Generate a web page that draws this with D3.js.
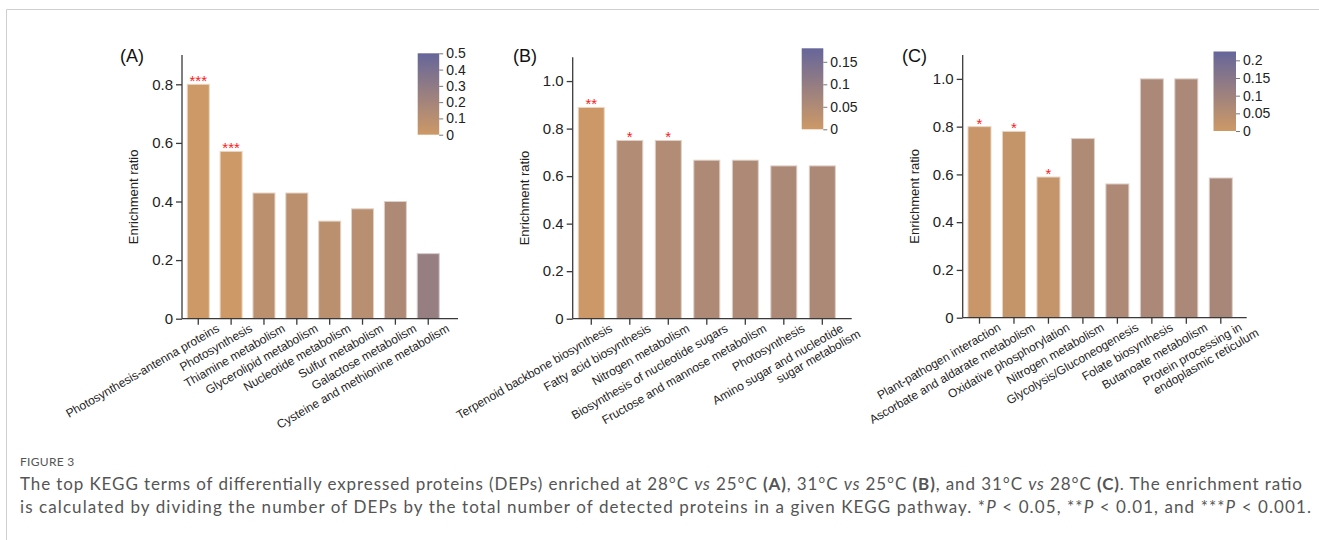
<!DOCTYPE html>
<html>
<head>
<meta charset="utf-8">
<script src="https://cdn.jsdelivr.net/npm/d3@7"></script>
<style>
  body { margin: 0; background: #fff; }
  svg { display: block; }
  .tick text { font-family: "Liberation Sans", Arial, sans-serif; }
</style>
</head>
<body>
<svg width="1319" height="540"></svg>
<script>
// ---- data ----
const catsA = ["Photosynthesis-antenna proteins", "Photosynthesis", "Thiamine metabolism",
  "Glycerolipid metabolism", "Nucleotide metabolism", "Sulfur metabolism",
  "Galactose metabolism", "Cysteine and methionine metabolism"];
const valsA = [0.8, 0.571, 0.429, 0.429, 0.333, 0.375, 0.4, 0.222];
const pA = [0.0002, 0.0007, 0.085, 0.085, 0.09, 0.1, 0.15, 0.26];

const catsB = ["Terpenoid backbone biosynthesis", "Fatty acid biosynthesis", "Nitrogen metabolism",
  "Biosynthesis of nucleotide sugars", "Fructose and mannose metabolism", "Photosynthesis",
  "Amino sugar and nucleotide\nsugar metabolism"];
const valsB = [0.889, 0.75, 0.75, 0.667, 0.667, 0.643, 0.643];
const pB = [0.002, 0.047, 0.047, 0.055, 0.055, 0.057, 0.057];

const catsC = ["Plant-pathogen interaction", "Ascorbate and aldarate metabolism",
  "Oxidative phosphorylation", "Nitrogen metabolism", "Glycolysis/Gluconeogenesis",
  "Folate biosynthesis", "Butanoate metabolism", "Protein processing in\nendoplasmic reticulum"];
const valsC = [0.8, 0.78, 0.589, 0.75, 0.56, 1.0, 1.0, 0.585];
const pC = [0.012, 0.018, 0.02, 0.066, 0.07, 0.074, 0.074, 0.08];

const yTicksA = [0, 0.2, 0.4, 0.6, 0.8];
const yTicksBC = [0, 0.2, 0.4, 0.6, 0.8, 1.0];
const legTicksA = [0, 0.1, 0.2, 0.3, 0.4, 0.5];
const legTicksB = [0, 0.05, 0.1, 0.15];
const legTicksC = [0, 0.05, 0.1, 0.15, 0.2];

const svg = d3.select("svg");
const font = '"Liberation Sans", Arial, sans-serif';
const lowCol = "#cd9966", highCol = "#66669a";

const stars = p => p < 0.001 ? "***" : p < 0.01 ? "**" : p < 0.05 ? "*" : "";
const fmt = v => v === 0 ? "0" : d3.format(".1f")(v);

// frame line of the figure box
svg.append("path")
  .attr("d", "M6.5,540V9.5H1319")
  .attr("fill", "none").attr("stroke", "#cfcfcf").attr("stroke-width", 1);

function panel(o) {
  const g = svg.append("g");
  const x = d3.scaleBand().domain(o.cats).range([o.x0, o.x1])
    .paddingInner(o.pi).paddingOuter(o.po);
  const y = d3.scaleLinear().domain([0, o.ymax]).range([o.yb, o.yt]);
  const col = d3.scaleLinear().domain([0, o.pmax]).range([lowCol, highCol]).clamp(true);

  // bars
  g.selectAll("rect.bar").data(o.cats).enter().append("rect")
    .attr("class", "bar")
    .attr("x", d => x(d))
    .attr("width", x.bandwidth())
    .attr("y", (d, i) => y(o.vals[i]))
    .attr("height", (d, i) => y(0) - y(o.vals[i]))
    .attr("fill", (d, i) => col(o.p[i]))
    .attr("stroke", (d, i) => d3.interpolateRgb(col(o.p[i]), "#fff")(0.6))
    .attr("stroke-width", 1);

  // significance stars
  g.selectAll("text.star").data(o.cats).enter().append("text")
    .attr("x", d => x(d) + x.bandwidth() / 2)
    .attr("y", (d, i) => y(o.vals[i]) + 2)
    .attr("text-anchor", "middle")
    .attr("font-family", font).attr("font-size", 15)
    .attr("fill", "#ff1a1a")
    .text((d, i) => stars(o.p[i]));

  // y axis
  const ya = g.append("g").attr("transform", `translate(${o.x0},0)`)
    .call(d3.axisLeft(y).tickValues(o.yticks).tickFormat(fmt).tickSize(6).tickPadding(3).tickSizeOuter(0));
  ya.select(".domain").attr("d", `M0,${o.yt}V${o.yb}`);
  ya.selectAll("line, path").attr("stroke", "#3a3a3a").attr("stroke-width", 1.3);
  ya.selectAll("text").attr("font-size", 15).attr("fill", "#222");

  // x axis
  const xa = g.append("g").attr("transform", `translate(0,${o.yb})`)
    .call(d3.axisBottom(x).tickSize(6).tickSizeOuter(0).tickFormat(""));
  xa.select(".domain").attr("d", `M${o.x0},0H${o.xend}`);
  xa.selectAll("line, path").attr("stroke", "#3a3a3a").attr("stroke-width", 1.3);

  // rotated category labels
  g.selectAll("text.cat").data(o.cats).enter().append("text")
    .attr("transform", d => `translate(${x(d) + x.bandwidth() / 2 + 22},${o.yb + 12}) rotate(-30)`)
    .attr("text-anchor", "end")
    .attr("font-family", font).attr("font-size", 12).attr("fill", "#222")
    .each(function (d) {
      const lines = d.split("\n");
      d3.select(this).selectAll("tspan").data(lines).enter().append("tspan")
        .attr("x", (l, i) => i * 12)
        .attr("dy", (l, i) => i === 0 ? 0 : "1.1em")
        .text(l => l);
    });

  // y title
  g.append("text")
    .attr("transform", `translate(${o.x0 - 44},${(o.yt + o.yb) / 2 + 10}) rotate(-90)`)
    .attr("text-anchor", "middle")
    .attr("font-family", font).attr("font-size", 13).attr("fill", "#222")
    .text("Enrichment ratio");

  // panel letter
  g.append("text").attr("x", o.lx).attr("y", 62)
    .attr("font-family", font).attr("font-size", 18).attr("fill", "#111")
    .text(o.letter);

  // colour legend
  const defs = svg.append("defs");
  const gid = "grad" + o.letter.replace(/\W/g, "");
  const grad = defs.append("linearGradient").attr("id", gid)
    .attr("x1", 0).attr("y1", 1).attr("x2", 0).attr("y2", 0);
  grad.append("stop").attr("offset", 0).attr("stop-color", lowCol);
  grad.append("stop").attr("offset", 1).attr("stop-color", highCol);
  const ly = d3.scaleLinear().domain([0, o.pmax]).range([o.lb, o.lt]);
  g.append("rect").attr("x", o.lx0).attr("y", o.lt)
    .attr("width", o.lw).attr("height", o.lb - o.lt)
    .attr("fill", `url(#${gid})`);
  const la = g.append("g").attr("transform", `translate(${o.lx0 + o.lw},0)`)
    .call(d3.axisRight(ly).tickValues(o.lticks).tickFormat(v => v === 0 ? "0" : String(v))
      .tickSize(4).tickPadding(3));
  la.select(".domain").remove();
  la.selectAll("line").attr("stroke", "#777");
  la.selectAll("text").attr("font-size", 14).attr("fill", "#222");
}

panel({ letter: "(A)", lx: 120, cats: catsA, vals: valsA, p: pA,
  x0: 182, x1: 444.5, xend: 458, pi: 0.33, po: 0.16,
  yb: 318.7, yt: 55, ymax: 0.9, yticks: yTicksA,
  pmax: 0.5, lx0: 417.7, lw: 21.5, lt: 53.3, lb: 134.7, lticks: legTicksA });

panel({ letter: "(B)", lx: 513, cats: catsB, vals: valsB, p: pB,
  x0: 572.7, x1: 840.9, xend: 851.7, pi: 0.325, po: 0.145,
  yb: 318.7, yt: 57.3, ymax: 1.1, yticks: yTicksBC,
  pmax: 0.18, lx0: 801.7, lw: 21.6, lt: 48.3, lb: 129.3, lticks: legTicksB });

panel({ letter: "(C)", lx: 902, cats: catsC, vals: valsC, p: pC,
  x0: 962.7, x1: 1237.6, xend: 1246.7, pi: 0.333, po: 0.154,
  yb: 317.7, yt: 55, ymax: 1.1, yticks: yTicksBC,
  pmax: 0.225, lx0: 1213.5, lw: 22.5, lt: 51.5, lb: 131, lticks: legTicksC });

// caption
const cap = svg.append("g").attr("font-family", "Lato, 'Open Sans', sans-serif").attr("fill", "#555");
cap.append("text").attr("x", 20).attr("y", 466).attr("font-size", 12).attr("letter-spacing", 0.3)
  .text("FIGURE 3");
const l1 = cap.append("text").attr("x", 20).attr("y", 490).attr("font-size", 17)
  .attr("textLength", 1282).attr("lengthAdjust", "spacing");
[["The top KEGG terms of differentially expressed proteins (DEPs) enriched at 28°C ", ""],
 ["vs", "i"], [" 25°C ", ""], ["(A)", "b"], [", 31°C ", ""], ["vs", "i"], [" 25°C ", ""], ["(B)", "b"],
 [", and 31°C ", ""], ["vs", "i"], [" 28°C ", ""], ["(C)", "b"], [". The enrichment ratio", ""]]
  .forEach(([t, s]) => l1.append("tspan").text(t)
    .attr("font-style", s === "i" ? "italic" : null).attr("font-weight", s === "b" ? "bold" : null));
const l2 = cap.append("text").attr("x", 20).attr("y", 513).attr("font-size", 17)
  .attr("textLength", 1291).attr("lengthAdjust", "spacing");
[["is calculated by dividing the number of DEPs by the total number of detected proteins in a given KEGG pathway. *", ""],
 ["P", "i"], [" < 0.05, **", ""], ["P", "i"], [" < 0.01, and ***", ""], ["P", "i"], [" < 0.001.", ""]]
  .forEach(([t, s]) => l2.append("tspan").text(t).attr("font-style", s === "i" ? "italic" : null));
</script>
</body>
</html>
